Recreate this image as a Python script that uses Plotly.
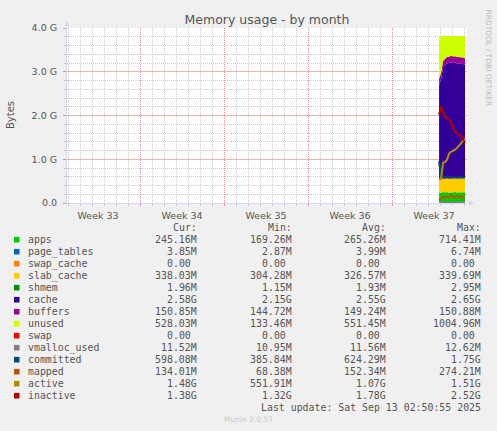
import pandas as pd
import plotly.graph_objects as go

times = ['2025-09-10 22:00', '2025-09-11 02:00', '2025-09-11 06:00', '2025-09-11 10:00',
         '2025-09-11 14:00', '2025-09-11 18:00', '2025-09-11 22:00', '2025-09-12 02:00',
         '2025-09-12 06:00', '2025-09-12 10:00', '2025-09-12 14:00', '2025-09-12 18:00',
         '2025-09-12 22:00', '2025-09-13 02:00']

apps = [250, 232, 262, 240, 255, 236, 250, 244, 258, 240, 250, 246, 240, 245]
page_tables = [3.2, 3.5, 4.0, 3.9, 3.8, 3.9, 4.1, 4.0, 3.9, 4.0, 3.9, 3.8, 3.9, 3.85]
swap_cache = [0, 0, 0, 0, 0, 0, 0, 0, 0, 0, 0, 0, 0, 0]
slab_cache = [306, 312, 318, 322, 326, 328, 330, 331, 327, 330, 334, 333, 336, 338]
shmem = [1.2, 1.8, 2.0, 1.9, 1.9, 2.0, 2.1, 1.9, 2.0, 1.9, 2.0, 1.9, 2.0, 1.96]
cache = [2200, 2350, 2590, 2650, 2685, 2705, 2710, 2700, 2695, 2690, 2680, 2675, 2670, 2642]
buffers = [145, 146, 147, 148, 149, 150, 150, 150, 150, 151, 151, 151, 151, 150.85]
unused = [1005, 865, 587, 544, 489, 485, 464, 479, 474, 493, 489, 499, 507, 528]
swap = [0, 0, 0, 0, 0, 0, 0, 0, 0, 0, 0, 0, 0, 0]
vmalloc_used = [10.95, 11.2, 11.5, 11.6, 11.5, 11.6, 11.7, 11.6, 11.5, 11.6, 11.6, 11.5, 11.6, 11.52]
committed = [980, 600, 590, 610, 595, 605, 590, 600, 610, 595, 600, 590, 605, 598]
mapped = [68, 110, 150, 125, 160, 130, 175, 140, 125, 165, 140, 155, 130, 134]
active = [552, 565, 942, 963, 1014, 1157, 1198, 1219, 1249, 1290, 1341, 1393, 1454, 1515]
inactive = [2068, 2253, 2140, 2017, 1976, 1956, 1884, 1761, 1669, 1649, 1597, 1577, 1505, 1413]

# legend table text
names = ['apps', 'page_tables', 'swap_cache', 'slab_cache', 'shmem', 'cache', 'buffers',
         'unused', 'swap', 'vmalloc_used', 'committed', 'mapped', 'active', 'inactive']
colors = ['#00CC00', '#0066B3', '#FF8000', '#FFCC00', '#008F00', '#330099', '#990099',
          '#CCFF00', '#FF0000', '#808080', '#00487D', '#B35A00', '#B38F00', '#B30000']
cur = ['245.16M', '3.85M', '0.00\u00a0', '338.03M', '1.96M', '2.58G', '150.85M',
       '528.03M', '0.00\u00a0', '11.52M', '598.08M', '134.01M', '1.48G', '1.38G']
mins = ['169.26M', '2.87M', '0.00\u00a0', '304.28M', '1.15M', '2.15G', '144.72M',
        '133.46M', '0.00\u00a0', '10.95M', '385.84M', '68.38M', '551.91M', '1.32G']
avgs = ['265.26M', '3.99M', '0.00\u00a0', '326.57M', '1.93M', '2.55G', '149.24M',
        '551.45M', '0.00\u00a0', '11.56M', '624.29M', '152.34M', '1.07G', '1.78G']
maxs = ['714.41M', '6.74M', '0.00\u00a0', '339.69M', '2.95M', '2.65G', '150.88M',
        '1004.96M', '0.00\u00a0', '12.62M', '1.75G', '274.21M', '1.51G', '2.52G']

y_ticks = [0, 1024, 2048, 3072, 4096]
y_ticktext = ['0.0', '1.0 G', '2.0 G', '3.0 G', '4.0 G']
week_starts = ['2025-08-17', '2025-08-24', '2025-08-31', '2025-09-07']
week_mids = ['2025-08-13 12:00', '2025-08-20 12:00', '2025-08-27 12:00',
             '2025-09-03 12:00', '2025-09-10 12:00']
week_labels = ['Week 33', 'Week 34', 'Week 35', 'Week 36', 'Week 37']
x_range = ['2025-08-10 21:50', '2025-09-13 05:50']

# minor grid: every day / every 0.2 G, skipping the major lines
day_grid = [d.strftime('%Y-%m-%d') for d in pd.date_range('2025-08-11', '2025-09-13')
            if d.strftime('%Y-%m-%d') not in week_starts]
y_minor = [k * 204.8 for k in range(21) if k % 5]

W, H = 497, 431
L, R, T, B = 67, 30, 28, 228
PW, PH = W - L - R, H - T - B
FONT = '#555555'
MONO = 'DejaVu Sans Mono'


def px(x):
    return (x - L) / PW


def py(y):
    return (H - B - y) / PH


fig = go.Figure()

stacked = [apps, page_tables, swap_cache, slab_cache, shmem, cache, buffers, unused, swap]
for i, vals in enumerate(stacked):
    fig.add_trace(go.Scatter(x=times, y=vals, name=names[i], mode='lines',
                             stackgroup='mem', line=dict(width=0, color=colors[i]),
                             fillcolor=colors[i], hoverinfo='skip'))

lines = [vmalloc_used, committed, mapped, active, inactive]
for j, vals in enumerate(lines):
    i = 9 + j
    fig.add_trace(go.Scatter(x=times, y=vals, name=names[i], mode='lines',
                             line=dict(width=2, color=colors[i]), hoverinfo='skip'))

# invisible trace that carries the week label axis
fig.add_trace(go.Scatter(x=week_mids, y=[None] * len(week_mids), xaxis='x2',
                         mode='markers', showlegend=False, hoverinfo='skip'))

grid_minor = '#CACACA'
grid_major = '#E69090'
axis_col = '#CFD6F8'
dots = '1px,1px'

fig.update_layout(
    width=W, height=H, autosize=False,
    margin=dict(l=L, r=R, t=T, b=B, pad=0),
    paper_bgcolor='#F0F0F0', plot_bgcolor='#FFFFFF',
    showlegend=False,
    font=dict(family='DejaVu Sans', color=FONT, size=9.5),
    title=dict(text='Memory usage - by month', x=0.5, xref='paper', xanchor='center',
               y=1 - 20 / H, yanchor='middle', font=dict(size=12.5, color=FONT)),
    xaxis=dict(type='date', range=x_range, tickmode='array', tickvals=week_starts,
               showticklabels=False, showgrid=True, gridcolor=grid_major, griddash=dots,
               gridwidth=1, zeroline=False, showline=True, linecolor=axis_col,
               ticks='outside', ticklen=2, tickcolor=grid_major,
               minor=dict(tickmode='array', tickvals=day_grid, showgrid=True,
                          gridcolor=grid_minor, griddash=dots, gridwidth=1,
                          ticks='outside', ticklen=2, tickcolor='#C8C8C8')),
    xaxis2=dict(type='date', range=x_range, overlaying='x', anchor='y', side='bottom',
                tickmode='array', tickvals=week_mids, ticktext=week_labels,
                showgrid=False, zeroline=False, ticks='', ticklabelstandoff=5,
                tickfont=dict(size=9.5, color=FONT)),
    yaxis=dict(range=[0, 4096], tickmode='array', tickvals=y_ticks, ticktext=y_ticktext,
               showgrid=True, gridcolor='#F0B4B4', griddash='solid', gridwidth=1,
               zeroline=False, showline=True, linecolor=axis_col,
               ticks='outside', ticklen=3, tickcolor=grid_major, ticklabelstandoff=4,
               tickfont=dict(size=9.5, color=FONT),
               minor=dict(tickmode='array', tickvals=y_minor, showgrid=True,
                          gridcolor=grid_minor, griddash=dots, gridwidth=1,
                          ticks='outside', ticklen=2, tickcolor='#C8C8C8')),
)

ann = []
# y axis title
ann.append(dict(text='Bytes', x=px(10.5), y=py(115.5), xref='paper', yref='paper',
                xanchor='center', yanchor='middle', textangle=-90, showarrow=False,
                font=dict(size=10, color=FONT)))
# rrdtool watermark
ann.append(dict(text='RRDTOOL / TOBI OETIKER', x=px(487.5), y=py(58), xref='paper',
                yref='paper', xanchor='center', yanchor='middle', textangle=90,
                showarrow=False, font=dict(size=7.5, color='#BBBBBB')))
# axis arrows
ann.append(dict(text='', x=px(67), y=py(21), xref='paper', yref='paper', ax=0, ay=8,
                showarrow=True, arrowhead=2, arrowsize=1, arrowwidth=1, arrowcolor=axis_col))
ann.append(dict(text='', x=px(474), y=py(203), xref='paper', yref='paper', ax=-8, ay=0,
                showarrow=True, arrowhead=2, arrowsize=1, arrowwidth=1, arrowcolor=axis_col))

# legend table
col_right = [199, 294, 388, 483]
headers = ['Cur:', 'Min:', 'Avg:', 'Max:']
for c, h in zip(col_right, headers):
    ann.append(dict(text=h, x=px(c), y=py(227.7), xref='paper', yref='paper',
                    xanchor='right', yanchor='middle', showarrow=False,
                    font=dict(family=MONO, size=9.9, color=FONT)))

shapes = []
for i, name in enumerate(names):
    yc = 239.7 + 12 * i
    shapes.append(dict(type='rect', xref='paper', yref='paper',
                       x0=px(14), x1=px(19.5), y0=py(yc - 2.8), y1=py(yc + 2.8),
                       fillcolor=colors[i], line=dict(width=0)))
    ann.append(dict(text=name, x=px(26), y=py(yc), xref='paper', yref='paper',
                    xanchor='left', yanchor='middle', showarrow=False,
                    font=dict(family=MONO, size=9.9, color=FONT)))
    for c, col in zip(col_right, [cur, mins, avgs, maxs]):
        ann.append(dict(text=col[i], x=px(c), y=py(yc), xref='paper', yref='paper',
                        xanchor='right', yanchor='middle', showarrow=False,
                        font=dict(family=MONO, size=9.9, color=FONT)))

ann.append(dict(text='Last update: Sat Sep 13 02:50:55 2025', x=px(483), y=py(407.7),
                xref='paper', yref='paper', xanchor='right', yanchor='middle',
                showarrow=False, font=dict(family=MONO, size=9.9, color=FONT)))
ann.append(dict(text='Munin 2.0.57', x=px(248.5), y=py(419.5), xref='paper', yref='paper',
                xanchor='center', yanchor='middle', showarrow=False,
                font=dict(size=7.5, color='#C8C8C8')))

fig.update_layout(annotations=ann, shapes=shapes)

fig.write_html("out.html", config={'displayModeBar': False},
               post_script="document.body.style.margin='0px';")
